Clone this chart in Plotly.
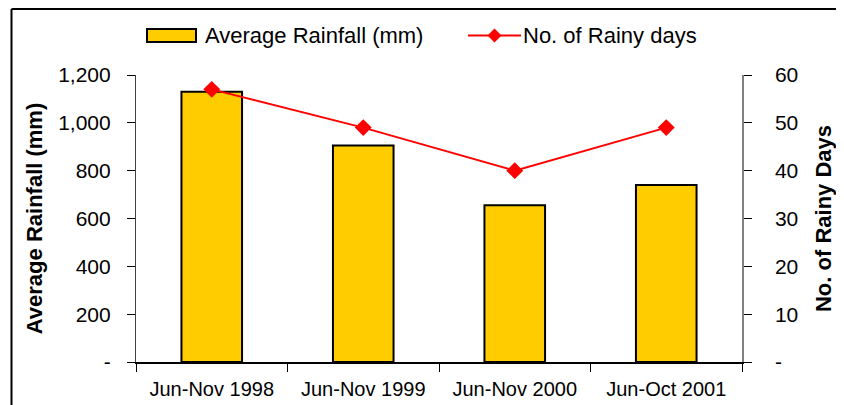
import plotly.graph_objects as go

categories = ["Jun-Nov 1998", "Jun-Nov 1999", "Jun-Nov 2000", "Jun-Oct 2001"]
rainfall_mm = [1130, 905, 655, 740]
rainy_days = [57, 49, 40, 49]
left_tickvals = [0, 200, 400, 600, 800, 1000, 1200]
left_ticktext = ["-", "200", "400", "600", "800", "1,000", "1,200"]
right_tickvals = [0, 10, 20, 30, 40, 50, 60]
right_ticktext = ["-", "10", "20", "30", "40", "50", "60"]
legend_names = ["Average Rainfall (mm)", "No. of Rainy days"]

# page body has an 8px margin; lay out in screen pixels and compensate
OFF = 8
W, H = 844 - 2 * OFF, 405 - OFF
SX0, SX1, SY0, SY1 = 136, 742, 75, 362   # plot area on screen
L, T = SX0 - OFF, SY0 - OFF
pw, ph = SX1 - SX0, SY1 - SY0
R, B = W - L - pw, H - T - ph

def px_x(x):
    return (x - SX0) / pw

def px_y(y):
    return (SY1 - y) / ph

FONT = "Liberation Sans, Arial, sans-serif"
BAR_COLOR = "#FFCC00"
LINE_COLOR = "#FF0000"

fig = go.Figure()
fig.add_trace(go.Bar(
    x=categories, y=rainfall_mm, name=legend_names[0],
    marker=dict(color=BAR_COLOR, line=dict(color="black", width=2)),
    yaxis="y", showlegend=False,
))
fig.add_trace(go.Scatter(
    x=categories, y=rainy_days, name=legend_names[1],
    mode="lines+markers",
    line=dict(color=LINE_COLOR, width=2),
    marker=dict(symbol="diamond", size=13, color=LINE_COLOR),
    yaxis="y2", showlegend=False,
))

fig.update_layout(
    width=W, height=H,
    margin=dict(l=L, r=R, t=T, b=B, autoexpand=False),
    paper_bgcolor="white", plot_bgcolor="white",
    font=dict(family=FONT, size=21, color="black"),
    bargap=0.6,
    showlegend=False,
    xaxis=dict(
        type="category", showline=True, linecolor="black", linewidth=1.5,
        ticks="outside", ticklen=8, tickcolor="black", tickson="boundaries",
        showgrid=False, zeroline=False, ticklabelstandoff=8,
        tickfont=dict(size=20, family=FONT), automargin=False,
        range=[-0.5, 3.5],
    ),
    yaxis=dict(
        range=[0, 1200], tickvals=left_tickvals, ticktext=left_ticktext,
        showline=True, linecolor="#404040", linewidth=1.2,
        ticks="outside", ticklen=8, tickcolor="black",
        showgrid=False, zeroline=False, ticklabelstandoff=12,
        tickfont=dict(size=21, family=FONT), automargin=False,
        title=dict(text="<b>Average Rainfall (mm)</b>", font=dict(size=22, family=FONT), standoff=9),
    ),
    yaxis2=dict(
        range=[0, 60], tickvals=right_tickvals, ticktext=right_ticktext,
        overlaying="y", side="right",
        showline=True, linecolor="#808080", linewidth=1.5,
        ticks="outside", ticklen=8, tickcolor="black",
        showgrid=False, zeroline=False, ticklabelstandoff=19,
        tickfont=dict(size=21, family=FONT), automargin=False,
        title=dict(text="<b>No. of Rainy Days</b>", font=dict(size=22, family=FONT), standoff=24),
    ),
)

# outer chart frame (extends beyond the visible area on right/bottom)
fig.add_shape(type="line", xref="paper", yref="paper",
              x0=px_x(11.5), x1=px_x(860), y0=px_y(9), y1=px_y(9),
              line=dict(color="black", width=2))
fig.add_shape(type="line", xref="paper", yref="paper",
              x0=px_x(11.5), x1=px_x(11.5), y0=px_y(9), y1=px_y(420),
              line=dict(color="black", width=2))

# custom legend matching the reference's wide swatches
LEG_Y = 35.5
fig.add_shape(type="rect", xref="paper", yref="paper",
              x0=px_x(147), x1=px_x(196), y0=px_y(42), y1=px_y(29),
              fillcolor=BAR_COLOR, line=dict(color="black", width=2))
fig.add_annotation(xref="paper", yref="paper", x=px_x(203), y=px_y(LEG_Y),
                   xanchor="left", yanchor="middle", showarrow=False,
                   text=legend_names[0], font=dict(size=22, family=FONT))
fig.add_shape(type="line", xref="paper", yref="paper",
              x0=px_x(468), x1=px_x(521), y0=px_y(LEG_Y), y1=px_y(LEG_Y),
              line=dict(color=LINE_COLOR, width=2))
cx, cy, d = 494.5, LEG_Y, 7
fig.add_shape(type="path", xref="paper", yref="paper",
              path=(f"M {px_x(cx - d)} {px_y(cy)} L {px_x(cx)} {px_y(cy - d)} "
                    f"L {px_x(cx + d)} {px_y(cy)} L {px_x(cx)} {px_y(cy + d)} Z"),
              fillcolor=LINE_COLOR, line=dict(color=LINE_COLOR, width=0))
fig.add_annotation(xref="paper", yref="paper", x=px_x(521), y=px_y(LEG_Y),
                   xanchor="left", yanchor="middle", showarrow=False,
                   text=legend_names[1], font=dict(size=22, family=FONT))

fig.write_html("out.html")
